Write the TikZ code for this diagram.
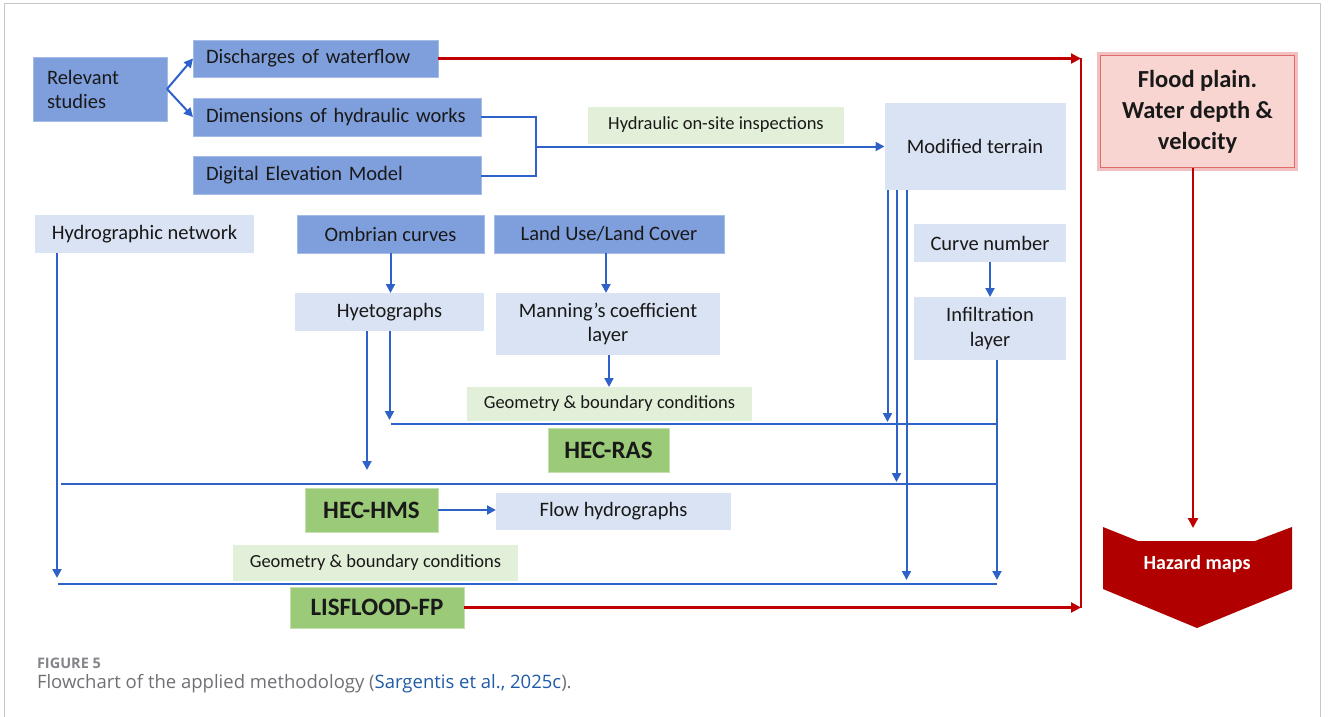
\documentclass[tikz,border=0pt]{standalone}
\usepackage{fontspec}
\setmainfont{Carlito}
\newfontfamily\capfont{Open Sans}
\usepackage{xcolor}
\usetikzlibrary{arrows.meta}
\definecolor{midblue}{HTML}{7F9FDC}
\definecolor{paleblue}{HTML}{DAE3F3}
\definecolor{palegreen}{HTML}{E2F0D9}
\definecolor{modgreen}{HTML}{9BCB78}
\definecolor{linkblue}{HTML}{2F62C8}
\definecolor{darkred}{HTML}{C00000}
\definecolor{pinkfill}{HTML}{F8D5D1}
\definecolor{pinkedge}{HTML}{E06A6A}
\definecolor{pinkglow}{HTML}{F3C0C0}
\definecolor{hazred}{HTML}{B00000}
\definecolor{capgray}{HTML}{6E7075}
\definecolor{citeblue}{HTML}{1F5AA6}

\begin{document}
\begin{tikzpicture}[x=1pt,y=-1pt]
\tikzset{every node/.style={inner sep=0pt,outer sep=0pt,text=black!90}}
\tikzset{darkbox/.style={fill=midblue,draw=midblue!70!white,line width=0.8pt,font=\fontsize{20.5}{24}\selectfont}}
\tikzset{lightbox/.style={fill=paleblue,align=center,font=\fontsize{20.5}{24.5}\selectfont}}
\tikzset{notebox/.style={fill=palegreen,font=\fontsize{18.5}{22}\selectfont}}
\tikzset{modelbox/.style={fill=modgreen,draw=modgreen!60!white,line width=0.8pt,font=\bfseries\fontsize{25}{30}\selectfont}}
\tikzset{flow/.style={draw=linkblue,line width=2pt}}
\tikzset{flowarr/.style={flow,-{Triangle[length=9pt,width=9pt]}}}
\tikzset{redline/.style={draw=darkred,line width=2.2pt}}
\tikzset{redarr/.style={redline,-{Triangle[length=10pt,width=10pt]}}}

\useasboundingbox (0,0) rectangle (1328,717);
\draw[gray!45,line width=1pt] (4,717) -- (4,4) -- (1320,4) -- (1320,717);

\node[darkbox,minimum width=134pt,minimum height=64pt,text width=106pt,align=left] (rel) at (100,89) {Relevant\\studies};
\node[darkbox,minimum width=245pt,minimum height=37pt,text width=219pt,align=left] (disch) at (315.5,58.5) {Discharges of waterflow};
\node[darkbox,minimum width=288pt,minimum height=38pt,text width=262pt,align=left] (dims) at (337,117) {Dimensions of hydraulic works};
\node[darkbox,minimum width=288pt,minimum height=38pt,text width=262pt,align=left] (dem) at (337,175.5) {Digital Elevation Model};
\node[notebox,minimum width=256pt,minimum height=37pt] (insp) at (716,125) {Hydraulic on-site inspections};
\node[lightbox,minimum width=181pt,minimum height=87pt] (modt) at (975,146.5) {Modified terrain};

\draw[pinkglow,line width=6pt] (1100,55) rectangle (1295,168);
\node[draw=pinkedge,line width=1.5pt,fill=pinkfill,minimum width=194pt,minimum height=112pt,align=center,font=\bfseries\fontsize{24.5}{31}\selectfont] (flood) at (1197.5,111.5) {Flood plain.\\Water depth \&\\velocity};

\node[lightbox,minimum width=219pt,minimum height=38pt] (hydro) at (144.5,234) {Hydrographic network};
\node[darkbox,minimum width=187pt,minimum height=38pt] (ombr) at (390.5,234) {Ombrian curves};
\node[darkbox,minimum width=230pt,minimum height=38pt] (lulc) at (609,234) {Land Use/Land Cover};
\node[lightbox,minimum width=152pt,minimum height=38pt] (curve) at (990,243) {Curve number};
\node[lightbox,minimum width=189pt,minimum height=38pt] (hyeto) at (389.5,312) {Hyetographs};
\node[lightbox,minimum width=224pt,minimum height=62pt] (mann) at (608,324) {Manning’s coefficient\\layer};
\node[lightbox,minimum width=152pt,minimum height=63pt] (infil) at (990,328.5) {Infiltration\\layer};
\node[notebox,minimum width=285pt,minimum height=34pt] (geo1) at (609.5,404) {Geometry \& boundary conditions};
\node[modelbox,minimum width=121pt,minimum height=44pt] (hecras) at (608.5,450) {HEC-RAS};
\node[modelbox,minimum width=133pt,minimum height=44pt] (hechms) at (371.5,510) {HEC-HMS};
\node[lightbox,minimum width=235pt,minimum height=37pt] (flowh) at (613.5,511.5) {Flow hydrographs};
\node[notebox,minimum width=285pt,minimum height=36pt] (geo2) at (375.5,563) {Geometry \& boundary conditions};
\node[modelbox,minimum width=174pt,minimum height=41pt] (lisf) at (377,607.5) {LISFLOOD-FP};

\fill[hazred] (1103,527) -- (1138,541) -- (1255,541) -- (1292,527) -- (1292,589) -- (1197,628) -- (1103,589) -- cycle;
\node[text=white,font=\bfseries\fontsize{20}{24}\selectfont] (haz) at (1197,564) {Hazard maps};

\coordinate (brk) at (536,146.5);
\coordinate (rtop) at (1081,58.5);
\coordinate (rbot) at (1081,607.5);
\coordinate (hztop) at (1193,528);
\coordinate (rasbus) at (391,424);
\coordinate (hmsbus) at (61,484);
\coordinate (lisbus) at (58,584);
\coordinate (busend) at (997,0);

\draw[flowarr] (rel.east) -- (disch.west);
\draw[flowarr] (rel.east) -- (dims.west);
\draw[flow] (dims.east) -| (brk) |- (dem.east);
\draw[flowarr] (brk) -- (modt.west);

\draw[redarr] (disch.east) -- (rtop);
\draw[redarr] (lisf.east) -- (rbot);
\draw[redline] (rtop) -- (rbot);
\draw[redarr] (hztop |- flood.south) -- (hztop);

\draw[flowarr] (ombr.south) -- (ombr.south |- hyeto.north);
\draw[flowarr] ([xshift=-3pt]lulc.south) -- ([xshift=-3pt]lulc.south |- mann.north);
\draw[flowarr] ([xshift=1pt]mann.south) -- ([xshift=1pt]mann.south |- geo1.north);
\draw[flowarr] (curve.south) -- (curve.south |- infil.north);
\draw[flowarr] (hechms.east) -- (hechms.east -| flowh.west);

\draw[flow] (rasbus) -- (busend |- rasbus);
\draw[flow] (hmsbus) -- (busend |- hmsbus);
\draw[flow] (lisbus) -- (busend |- lisbus);

\draw[flowarr] ([xshift=-22.5pt]hyeto.south) -- ++(0,139);
\draw[flowarr] (hyeto.south) -- ++(0,89);
\draw[flowarr] ([xshift=-87.5pt]hydro.south) -- ++(0,325);
\draw[flowarr] ([xshift=-87.5pt]modt.south) -- ++(0,232);
\draw[flowarr] ([xshift=-78.5pt]modt.south) -- ++(0,292);
\draw[flowarr] ([xshift=-68.5pt]modt.south) -- ++(0,390);
\draw[flowarr] ([xshift=7pt]infil.south) -- ++(0,220);

\node[anchor=west,font=\capfont\bfseries\fontsize{14.5}{17}\selectfont,text=capgray!85] (fig) at (37,663) {FIGURE 5};
\node[anchor=west,font=\capfont\fontsize{18.5}{22}\selectfont,text=capgray] (cap) at (37,684) {Flowchart of the applied methodology (\textcolor{citeblue}{Sargentis et al., 2025c}).};
\end{tikzpicture}
\end{document}
